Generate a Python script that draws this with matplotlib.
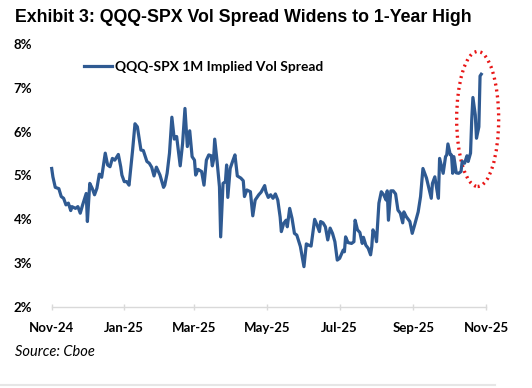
import matplotlib
matplotlib.use("Agg")
import matplotlib.pyplot as plt
import matplotlib.dates as mdates
from matplotlib.patches import Ellipse
import pandas as pd

# ---- data ----
start_date = "2024-11-01"
# days since start_date
days = [0, 1, 3, 6, 8, 10, 12, 14, 16, 17, 20, 22, 24, 26, 29, 30, 32, 34, 36, 38,
        40, 42, 45, 47, 49, 51, 53, 56, 58, 59, 61, 63, 65, 68, 70, 72, 75, 77, 80, 82,
        84, 86, 88, 91, 94, 95, 97, 99, 101, 103, 105, 108, 110, 112, 114, 116, 118, 120, 121, 123,
        126, 128, 130, 132, 134, 135, 136, 137, 139, 141, 142, 144, 146, 147, 148, 150, 152, 154, 156, 159,
        161, 162, 164, 167, 169, 171, 174, 176, 179, 180, 182, 184, 186, 188, 190, 192, 193, 195, 197, 198,
        200, 202, 204, 206, 209, 210, 212, 214, 216, 218, 221, 223, 225, 226, 228, 230, 232, 234, 236, 238,
        240, 242, 245, 246, 247, 249, 252, 254, 255, 257, 259, 261, 262, 264, 266, 268, 269, 270, 272, 273,
        275, 277, 279, 281, 282, 283, 285, 287, 289, 291, 293, 295, 296, 298, 301, 303, 305, 308, 310, 312,
        315, 317, 319, 320, 322, 324, 325, 326, 328, 329, 331, 332, 333, 335, 336, 337, 338, 340, 342, 344,
        345, 347, 349, 350, 352, 353, 354, 356, 357, 359, 360, 361]
spread = [5.16, 4.97, 4.73, 4.70, 4.52, 4.48, 4.33, 4.37, 4.20, 4.29, 4.25, 4.29, 4.14, 4.33, 4.59, 3.95, 4.82, 4.71, 4.56, 4.71,
          5.03, 4.96, 5.51, 5.24, 5.20, 5.39, 5.35, 5.48, 5.20, 5.01, 4.86, 4.86, 4.78, 5.58, 6.18, 6.11, 5.58, 5.57, 5.32, 5.28,
          5.19, 4.99, 5.19, 5.01, 4.73, 4.78, 5.05, 5.51, 6.33, 5.83, 5.89, 5.22, 5.73, 6.53, 5.66, 6.02, 5.43, 5.35, 5.01, 5.14,
          5.09, 4.78, 5.35, 5.47, 5.45, 5.22, 5.35, 5.83, 5.32, 4.74, 3.60, 4.82, 4.86, 5.24, 4.50, 5.16, 5.32, 5.47, 4.99, 4.94,
          4.88, 4.52, 4.67, 4.63, 4.08, 4.44, 4.56, 4.62, 4.77, 4.63, 4.50, 4.56, 4.48, 4.58, 4.44, 4.05, 3.72, 3.91, 3.98, 3.83,
          4.25, 4.02, 3.68, 3.64, 3.38, 3.23, 2.92, 3.44, 3.41, 3.39, 4.00, 3.87, 3.72, 3.95, 3.92, 3.83, 3.53, 3.80, 3.68, 3.49,
          3.07, 3.11, 3.30, 3.26, 3.60, 3.47, 3.45, 3.49, 3.98, 3.76, 3.70, 3.45, 3.59, 3.41, 3.34, 3.19, 3.38, 3.76, 3.64, 3.49,
          4.37, 4.63, 4.56, 4.44, 4.65, 3.98, 4.65, 4.65, 4.58, 4.21, 4.14, 3.92, 4.17, 4.06, 3.95, 3.68, 3.87, 4.17, 4.52, 5.16,
          4.94, 4.71, 4.48, 4.82, 4.97, 4.63, 4.48, 5.39, 5.16, 5.05, 5.43, 5.47, 5.72, 5.47, 5.47, 5.05, 5.43, 5.06, 5.05, 5.09,
          5.32, 5.28, 5.45, 5.32, 5.51, 6.27, 6.78, 6.38, 5.85, 6.11, 7.27, 7.31]
tick_dates = ["2024-11-01", "2025-01-01", "2025-03-01", "2025-05-01",
              "2025-07-01", "2025-09-01", "2025-11-01"]
y_ticks = [2, 3, 4, 5, 6, 7, 8]
series_label = "QQQ-SPX 1M Implied Vol Spread"
title = "Exhibit 3: QQQ-SPX Vol Spread Widens to 1-Year High"
source = "Source: Cboe"

dates = pd.Timestamp(start_date) + pd.to_timedelta(days, unit="D")

W, H = 532, 388
fig = plt.figure(figsize=(W / 100, H / 100), dpi=100)
ax = fig.add_axes([51.7 / W, 1 - 307 / H, 434.3 / W, 263 / H])

line_color = "#2F5A92"
ax.plot(dates, spread, color=line_color, lw=2.3, solid_joinstyle="round",
        label=series_label, clip_on=False)

ax.set_xlim(pd.Timestamp(tick_dates[0]), pd.Timestamp(tick_dates[-1]))
ax.set_ylim(2, 8)

fam = ["Lato", "DejaVu Sans"]
ax.set_xticks([pd.Timestamp(d) for d in tick_dates])
ax.xaxis.set_major_formatter(mdates.DateFormatter("%b-%y"))
ax.set_yticks(y_ticks)
ax.set_yticklabels([f"{v}%" for v in y_ticks])
for lbl in ax.get_xticklabels() + ax.get_yticklabels():
    lbl.set_fontfamily(fam)
    lbl.set_fontweight("bold")
    lbl.set_fontsize(9.5)
    lbl.set_color("black")

for s in ["top", "right", "left"]:
    ax.spines[s].set_visible(False)
ax.spines["bottom"].set_color("#d9d9d9")
ax.spines["bottom"].set_linewidth(1.0)
ax.tick_params(axis="x", direction="inout", length=5, color="#d9d9d9", width=1.0, pad=8)
ax.tick_params(axis="y", length=0, pad=14)

leg = ax.legend(loc="center left", bbox_to_anchor=(84 / W, 1 - 67 / H),
                bbox_transform=fig.transFigure, frameon=False, borderpad=0,
                borderaxespad=0, handlelength=2.0, handletextpad=0.25,
                prop=dict(family=fam, weight="bold", size=9.9))

# dotted red ellipse around the recent spike
cx = pd.Timestamp(start_date) + pd.Timedelta(days=358)
ell = Ellipse((mdates.date2num(cx), 6.29), width=35.3, height=3.08,
              transform=ax.transData, fill=False, edgecolor="#E81515",
              lw=2.4, linestyle=(0, (0.6, 1.2)), clip_on=False)
ax.add_patch(ell)

fig.text(15 / W, 1 - 17 / H, title, ha="left", va="center",
         family=["Liberation Sans", "DejaVu Sans"], weight="bold", size=12.8)
fig.text(15 / W, 1 - 352 / H, source, ha="left", va="center",
         family=fam, style="italic", size=10.5)

fig.add_artist(plt.Line2D([0, 495 / W], [1 - 385 / H, 1 - 385 / H],
                          transform=fig.transFigure, color="#e6e6e6", lw=1.5))

fig.savefig("out.png", dpi=100)
